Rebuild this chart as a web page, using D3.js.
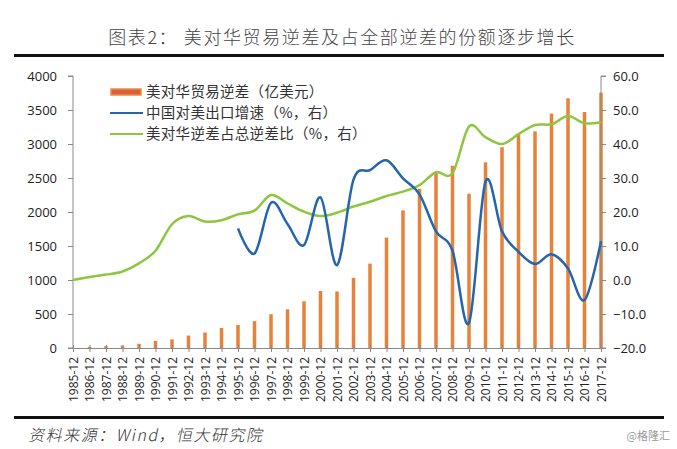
<!DOCTYPE html>
<html><head><meta charset="utf-8">
<script src="https://cdn.jsdelivr.net/npm/d3@7"></script>
<style>body{margin:0;background:#fff}svg{display:block}</style>
</head><body>
<svg id="c" width="677" height="449"></svg>
<script>
const years = ["1985-12","1986-12","1987-12","1988-12","1989-12","1990-12","1991-12","1992-12","1993-12","1994-12","1995-12","1996-12","1997-12","1998-12","1999-12","2000-12","2001-12","2002-12","2003-12","2004-12","2005-12","2006-12","2007-12","2008-12","2009-12","2010-12","2011-12","2012-12","2013-12","2014-12","2015-12","2016-12","2017-12"];
const deficit = [0.6,17,28,35,62,104,127,183,228,295,338,395,497,569,687,838,831,1031,1241,1623,2023,2341,2585,2680,2269,2731,2953,3151,3187,3448,3673,3470,3756];
const exportGrowth = [null,null,null,null,null,null,null,null,null,null,15.2,7.8,22.7,16.5,10.3,24.3,4.4,29.5,32.3,35.2,29.9,25.2,14.3,8.6,-12.6,28.9,14.3,8.3,4.7,7.6,3.4,-5.9,11.4];
const share = [0.0,0.9,1.6,2.5,4.9,8.6,16.4,18.8,17.2,17.6,19.3,20.4,25.0,22.5,20.1,18.8,19.8,21.6,23.0,24.7,26.0,27.9,31.7,31.4,45.1,42.0,40.0,42.9,45.6,45.8,48.2,46.1,46.4];
const leftTicks = [0,500,1000,1500,2000,2500,3000,3500,4000];
const rightTicks = [-20,-10,0,10,20,30,40,50,60];
const legendLabels = ["美对华贸易逆差（亿美元）","中国对美出口增速（%，右）","美对华逆差占总逆差比（%，右）"];
const titleText = "图表2：  美对华贸易逆差及占全部逆差的份额逐步增长";
const sourceText = "资料来源：Wind，恒大研究院";

const svg = d3.select("#c");
const L = 73, R = 601, T = 76, B = 348;
const x = d3.scalePoint().domain(years).range([L, R]);
const yL = d3.scaleLinear().domain([0,4000]).range([B,T]);
const yR = d3.scaleLinear().domain([-20,60]).range([B,T]);
const cjk = "'Noto Sans CJK SC', sans-serif";
const num = "'Open Sans', 'Liberation Sans', sans-serif";

// title
svg.append("text").attr("x",342).attr("y",44).attr("text-anchor","middle")
  .attr("font-family",cjk).attr("font-size",18).attr("letter-spacing",1.6).attr("font-weight",300)
  .attr("fill","#444").text(titleText);
svg.append("rect").attr("x",14).attr("y",54).attr("width",650).attr("height",3).attr("fill","#111");
svg.append("rect").attr("x",14).attr("y",416).attr("width",650).attr("height",3).attr("fill","#111");
svg.append("text").attr("x",28).attr("y",441).attr("font-family",cjk)
  .attr("font-size",16).attr("letter-spacing",1.5).attr("fill","#333").attr("font-weight",300)
  .attr("transform","skewX(-12) translate(94,0)").text(sourceText);
svg.append("text").attr("x",670).attr("y",440).attr("text-anchor","end").attr("font-family",cjk)
  .attr("font-size",11).attr("fill","#999").text("@格隆汇");

// bars
svg.append("g").selectAll("rect").data(deficit).join("rect")
  .attr("x",(d,i)=>x(years[i])-1.75).attr("width",3.5)
  .attr("y",d=>yL(d)).attr("height",d=>B-yL(d)).attr("fill","#E8823A");

// axes
const axisColor = "#8a8a8a";
const gl = svg.append("g").attr("transform",`translate(${L},0)`)
  .call(d3.axisLeft(yL).tickValues(leftTicks).tickSize(5).tickFormat(d3.format("d")));
const gr = svg.append("g").attr("transform",`translate(${R},0)`)
  .call(d3.axisRight(yR).tickValues(rightTicks).tickSize(5).tickFormat(d3.format(".1f")));
const gb = svg.append("g").attr("transform",`translate(0,${B})`)
  .call(d3.axisBottom(x).tickSize(4).tickSizeOuter(0));
[gl,gr,gb].forEach(g=>{g.select(".domain").attr("stroke",axisColor);g.selectAll(".tick line").attr("stroke",axisColor);
  g.selectAll("text").attr("font-family",num).attr("fill","#222");});
gl.selectAll("text").attr("font-size",13).attr("x",-16);
gr.selectAll("text").attr("font-size",13).attr("x",12);
gb.selectAll(".tick line").attr("y1",-3);
gb.selectAll("text").attr("font-size",12).attr("transform","rotate(-90)")
  .attr("text-anchor","end").attr("x",-9).attr("y",0).attr("dy","0.35em");
gl.select(".domain").attr("d",`M-5,${T}H0V${B}H-5`);
gr.select(".domain").attr("d",`M5,${T}H0V${B}H5`);

// lines
const curve = d3.curveCardinal.tension(0);
const lineGen = d3.line().defined(d=>d.v!=null).x(d=>x(d.k)).y(d=>yR(d.v)).curve(curve);
svg.append("path").datum(years.map((k,i)=>({k,v:share[i]}))).attr("d",lineGen)
  .attr("fill","none").attr("stroke","#8DC63F").attr("stroke-width",2.5);
svg.append("path").datum(years.map((k,i)=>({k,v:exportGrowth[i]})).filter(d=>d.v!=null)).attr("d",lineGen)
  .attr("fill","none").attr("stroke","#2366AE").attr("stroke-width",2.5);

// legend
const lg = svg.append("g");
const ly = [92,113,134];
lg.append("rect").attr("x",111).attr("y",ly[0]-3).attr("width",30).attr("height",6)
  .attr("fill","#D4603E").attr("stroke","#EE8A40").attr("stroke-width",1.5);
lg.append("line").attr("x1",110).attr("x2",143).attr("y1",ly[1]).attr("y2",ly[1]).attr("stroke","#2366AE").attr("stroke-width",2);
lg.append("line").attr("x1",110).attr("x2",143).attr("y1",ly[2]).attr("y2",ly[2]).attr("stroke","#8DC63F").attr("stroke-width",2);
legendLabels.forEach((t,i)=>lg.append("text").attr("x",146).attr("y",ly[i]).attr("dy","0.35em")
  .attr("font-family",cjk).attr("font-size",14.5).attr("letter-spacing",0.3).attr("fill","#333").text(t));
</script>
</body></html>
